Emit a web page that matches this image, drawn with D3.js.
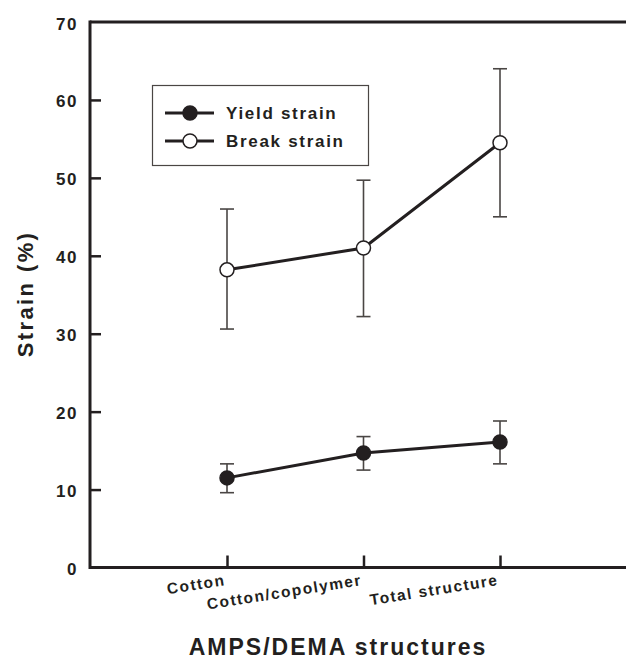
<!DOCTYPE html>
<html>
<head>
<meta charset="utf-8">
<script src="https://cdn.jsdelivr.net/npm/d3@7"></script>
<style>
  body { margin: 0; background: #fff; }
  svg text { font-family: Arial, "Liberation Sans", sans-serif; font-weight: bold; fill: #231f20; }
</style>
</head>
<body>
<svg id="chart" width="626" height="660"></svg>
<script>
var categories = ["Cotton", "Cotton/copolymer", "Total structure"];
var yieldStrain = [11.5, 14.7, 16.1];
var yieldLow = [9.6, 12.5, 13.3];
var yieldHigh = [13.3, 16.8, 18.8];
var breakStrain = [38.2, 41.0, 54.5];
var breakLow = [30.6, 32.2, 45.0];
var breakHigh = [46.0, 49.7, 64.0];
var yTicks = [0, 10, 20, 30, 40, 50, 60, 70];

var ink = "#231f20";
var svg = d3.select("#chart");

var x = d3.scalePoint().domain(categories).range([227, 500]);
var y = d3.scaleLinear().domain([0, 70]).range([567.5, 22]);

var left = 90, right = 640;

// frame: left axis, top line, bottom axis
svg.append("line").attr("x1", left).attr("x2", right).attr("y1", y(70)).attr("y2", y(70))
    .attr("stroke", ink).attr("stroke-width", 3);
svg.append("line").attr("x1", left).attr("x2", right).attr("y1", y(0)).attr("y2", y(0))
    .attr("stroke", ink).attr("stroke-width", 3);
svg.append("line").attr("x1", left).attr("x2", left).attr("y1", y(70) - 1.5).attr("y2", y(0) + 1.5)
    .attr("stroke", ink).attr("stroke-width", 3);

// y ticks (inward)
var yAxis = svg.append("g").attr("transform", "translate(" + left + ",0)")
    .call(d3.axisRight(y).tickValues(yTicks).tickSize(11).tickFormat(""));
yAxis.select(".domain").remove();
yAxis.selectAll("line").attr("stroke", ink).attr("stroke-width", 2.5);
yAxis.selectAll(".tick").filter(function (d) { return d == 0 || d == 70; }).select("line").remove();

svg.selectAll(".ylab").data(yTicks).enter().append("text")
    .attr("class", "ylab")
    .attr("x", 78).attr("y", function (d) { return y(d) + 7.5; })
    .attr("text-anchor", "end").style("font-size", "17px").style("letter-spacing", "1.5px")
    .text(function (d) { return d; });

// x ticks (inward)
var xAxis = svg.append("g").attr("transform", "translate(0," + y(0) + ")")
    .call(d3.axisTop(x).tickSize(12).tickFormat(""));
xAxis.select(".domain").remove();
xAxis.selectAll("line").attr("stroke", ink).attr("stroke-width", 2.5);

svg.selectAll(".xlab").data(categories).enter().append("text")
    .attr("class", "xlab")
    .attr("text-anchor", "end").style("font-size", "15.5px").style("letter-spacing", "1.5px")
    .attr("transform", function (d) { return "translate(" + (x(d) - 1) + ",585) rotate(-9)"; })
    .text(function (d) { return d; });

// titles
svg.append("text").attr("text-anchor", "middle").style("font-size", "22px").style("letter-spacing", "2.4px")
    .attr("transform", "translate(33,294) rotate(-90)").text("Strain (%)");
svg.append("text").attr("text-anchor", "middle").style("font-size", "23px").style("letter-spacing", "2px")
    .attr("x", 338).attr("y", 655).text("AMPS/DEMA structures");

function drawSeries(vals, lo, hi, fill) {
    var g = svg.append("g");
    var line = d3.line().x(function (d, i) { return x(categories[i]); }).y(function (d) { return y(d); });
    categories.forEach(function (c, i) {
        g.append("line").attr("x1", x(c)).attr("x2", x(c)).attr("y1", y(lo[i])).attr("y2", y(hi[i]))
            .attr("stroke", "#4a4644").attr("stroke-width", 1.6);
        [lo[i], hi[i]].forEach(function (v) {
            g.append("line").attr("x1", x(c) - 7).attr("x2", x(c) + 7).attr("y1", y(v)).attr("y2", y(v))
                .attr("stroke", "#4a4644").attr("stroke-width", 1.6);
        });
    });
    g.append("path").datum(vals).attr("d", line).attr("fill", "none")
        .attr("stroke", ink).attr("stroke-width", 3);
    g.selectAll("circle").data(vals).enter().append("circle")
        .attr("cx", function (d, i) { return x(categories[i]); })
        .attr("cy", function (d) { return y(d); })
        .attr("r", 7).attr("fill", fill).attr("stroke", ink).attr("stroke-width", 1.5);
}
drawSeries(yieldStrain, yieldLow, yieldHigh, ink);
drawSeries(breakStrain, breakLow, breakHigh, "#fff");

// legend
var lg = svg.append("g");
lg.append("rect").attr("x", 152.5).attr("y", 85.5).attr("width", 216).attr("height", 80)
    .attr("fill", "#fff").attr("stroke", "#4a4644").attr("stroke-width", 1.2);
[["Yield strain", ink, 113], ["Break strain", "#fff", 141]].forEach(function (e) {
    lg.append("line").attr("x1", 165).attr("x2", 214).attr("y1", e[2]).attr("y2", e[2])
        .attr("stroke", ink).attr("stroke-width", 3);
    lg.append("circle").attr("cx", 190).attr("cy", e[2]).attr("r", 7)
        .attr("fill", e[1]).attr("stroke", ink).attr("stroke-width", 1.5);
    lg.append("text").attr("x", 226).attr("y", e[2] + 6).style("font-size", "17px")
        .style("letter-spacing", "1.7px").text(e[0]);
});
</script>
</body>
</html>
